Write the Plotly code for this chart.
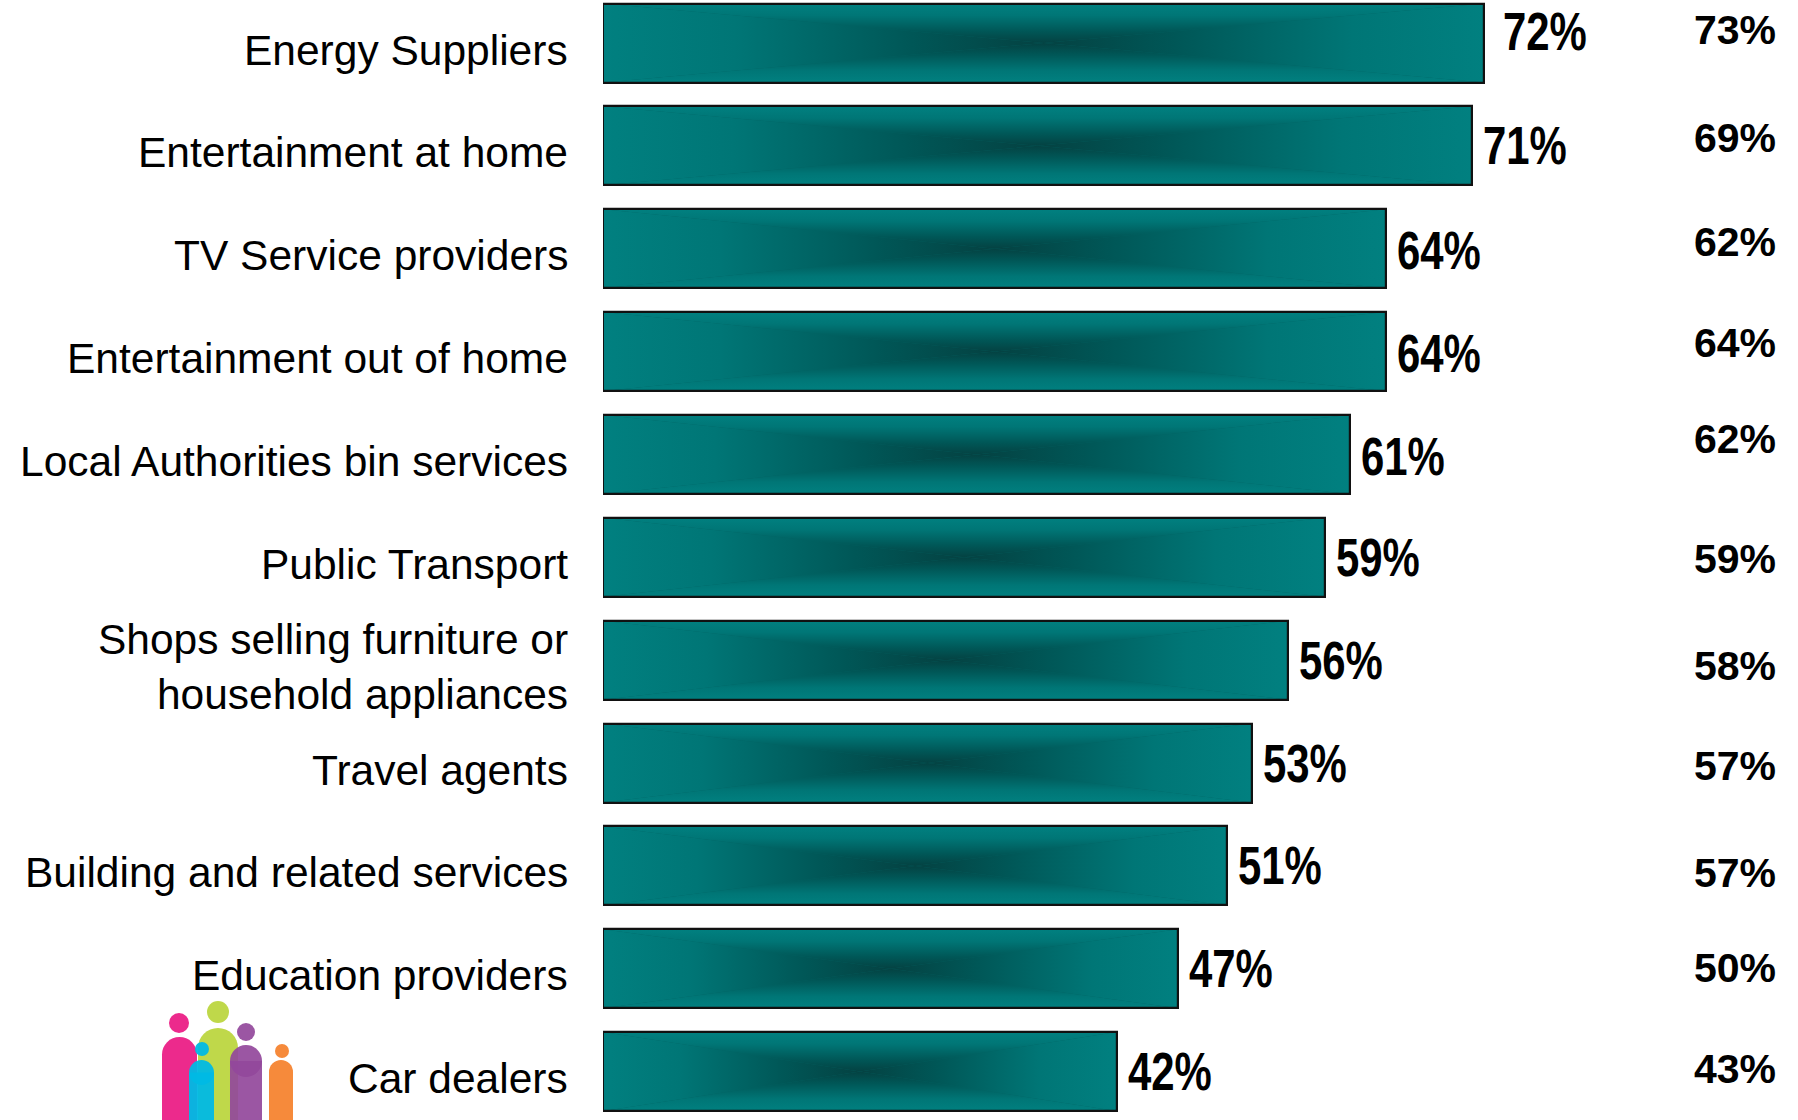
import base64
import plotly.graph_objects as go

# Satisfaction by sector: current wave (bars) and previous wave (right column)
categories = [
    "Energy Suppliers",
    "Entertainment at home",
    "TV Service providers",
    "Entertainment out of home",
    "Local Authorities bin services",
    "Public Transport",
    "Shops selling furniture or<br>household appliances",
    "Travel agents",
    "Building and related services",
    "Education providers",
    "Car dealers",
]
current = [72, 71, 64, 64, 61, 59, 56, 53, 51, 47, 42]
previous = [73, 69, 62, 64, 62, 59, 58, 57, 57, 50, 43]

# small offsets (px) for the label columns: lift is + up, push is + right
value_lift = [12, 0, -2, -2, -2, 0, 0, 0, 0, 0, 0]
value_push = [8, 0, 0, 0, 0, 0, 0, 0, 0, 0, 0]
prev_lift = [13, 8, 7, 9, 15, -2, -6, -3, -7, 1, 3]

W, H = 1798, 1120
PLOT_LEFT = 603          # pixel where the bars start
PX_PER_PCT = 12.24       # horizontal scale
ROW_PITCH = 102.86       # pixels per category row
FIRST_ROW = 43.0         # pixel centre of the first row
BAR_WIDTH = 0.768

rows = list(range(len(categories)))


def bar_fill_svg():
    """Rectangular 'path' gradient: teal at the edges, deep teal at the centre."""
    stops = [(0, "#018080"), (0.3, "#007676"), (0.7, "#005757"), (1, "#044242")]

    def grad(gid, x1, y1, x2, y2):
        s = "".join(f'<stop offset="{o}" stop-color="{c}"/>' for o, c in stops)
        return (f'<linearGradient id="{gid}" x1="{x1}" y1="{y1}" x2="{x2}" y2="{y2}">'
                f'{s}</linearGradient>')

    defs = grad("t", 0, 0, 0, 1) + grad("b", 0, 1, 0, 0) + grad("l", 0, 0, 1, 0) + grad("r", 1, 0, 0, 0)
    polys = (
        '<polygon points="0,0 100,0 50,50" fill="url(#t)"/>'
        '<polygon points="0,100 100,100 50,50" fill="url(#b)"/>'
        '<polygon points="0,0 0,100 50,50" fill="url(#l)"/>'
        '<polygon points="100,0 100,100 50,50" fill="url(#r)"/>'
    )
    svg = ('<svg xmlns="http://www.w3.org/2000/svg" width="100" height="100" '
           'viewBox="0 0 100 100" preserveAspectRatio="none">'
           f'<defs>{defs}</defs><rect width="100" height="100" fill="#006262"/>{polys}</svg>')
    return "data:image/svg+xml;base64," + base64.b64encode(svg.encode()).decode()


fill_src = bar_fill_svg()

fig = go.Figure()
fig.add_trace(go.Bar(
    x=current, y=rows, orientation="h", width=BAR_WIDTH,
    marker=dict(color="rgba(0,0,0,0)", line=dict(color="#111111", width=2.2)),
    hoverinfo="skip", showlegend=False,
))

images = []
for i, v in zip(rows, current):
    images.append(dict(
        source=fill_src, xref="x", yref="y", x=0, y=i,
        sizex=v, sizey=BAR_WIDTH, xanchor="left", yanchor="middle",
        sizing="stretch", layer="below",
    ))

annotations = []
label_font = dict(family="Liberation Sans, Arial, sans-serif", size=42.5, color="#000000")
value_font = dict(family="Liberation Sans Narrow, Arial Narrow, Liberation Sans, Arial, sans-serif",
                  size=53, color="#000000", weight="bold")
prev_font = dict(family="Liberation Sans, Arial, sans-serif", size=41, color="#000000", weight="bold")

for i, (cat, v, p) in enumerate(zip(categories, current, previous)):
    annotations.append(dict(
        text=cat, xref="paper", yref="y", x=570 / W, y=i,
        xanchor="right", yanchor="middle", align="right",
        showarrow=False, font=label_font, yshift=-7,
    ))
    annotations.append(dict(
        text=f"{v}%", xref="x", yref="y", x=v, y=i,
        xanchor="left", yanchor="middle", align="left", xshift=9 + value_push[i],
        yshift=value_lift[i], showarrow=False, font=value_font,
    ))
    annotations.append(dict(
        text=f"{p}%", xref="paper", yref="y", x=1778 / W, y=i,
        xanchor="right", yanchor="middle", yshift=prev_lift[i],
        showarrow=False, font=prev_font,
    ))


# Small "people" logo in the lower-left corner (pixel geometry -> paper coords)
def px(x):
    return x / W


def py(y):
    return 1 - y / H


shapes = []


def person(cx_head, cy_head, r_head, body_x0, body_x1, body_top, color, opacity=1.0):
    r_body = (body_x1 - body_x0) / 2
    cy_round = body_top + r_body
    common = dict(xref="paper", yref="paper", fillcolor=color, opacity=opacity,
                  line=dict(width=0), layer="above")
    shapes.append(dict(type="circle", x0=px(cx_head - r_head), x1=px(cx_head + r_head),
                       y0=py(cy_head + r_head), y1=py(cy_head - r_head), **common))
    shapes.append(dict(type="circle", x0=px(body_x0), x1=px(body_x1),
                       y0=py(cy_round + r_body), y1=py(body_top), **common))
    shapes.append(dict(type="rect", x0=px(body_x0), x1=px(body_x1),
                       y0=py(H + 2), y1=py(cy_round), **common))


person(179, 1023, 10, 162, 197, 1037, "#ec2a8c")
person(218, 1012, 11, 198, 238, 1028, "#bfd84a")
person(246, 1032, 9, 230, 262, 1045, "#93489b", 0.92)
person(202, 1049, 7, 189, 214, 1060, "#00b9e4", 0.95)
person(282, 1051, 7, 269, 293, 1060, "#f68a3b")

x_max = (W - PLOT_LEFT) / PX_PER_PCT
y_top = -FIRST_ROW / ROW_PITCH
y_bottom = (H - FIRST_ROW) / ROW_PITCH

fig.update_layout(
    width=W, height=H,
    margin=dict(l=0, r=0, t=0, b=0),
    paper_bgcolor="white", plot_bgcolor="rgba(0,0,0,0)",
    xaxis=dict(domain=[PLOT_LEFT / W, 1], range=[0, x_max], visible=False, fixedrange=True),
    yaxis=dict(domain=[0, 1], range=[y_bottom, y_top], visible=False, fixedrange=True),
    images=images, annotations=annotations, shapes=shapes,
    bargap=0,
)

# Condense the bar value labels (narrow bold face) when no narrow font is available
condense_js = """
var gd = document.getElementById('{plot_id}');
function condense() {
  gd.querySelectorAll('text.annotation-text').forEach(function (t) {
    var fam = t.style.fontFamily || '';
    if (fam.indexOf('Narrow') >= 0 && !t.getAttribute('textLength')) {
      var w = t.getComputedTextLength();
      t.setAttribute('textLength', (w * 0.79).toFixed(1));
      t.setAttribute('lengthAdjust', 'spacingAndGlyphs');
    }
  });
}
condense();
gd.on('plotly_afterplot', condense);
"""

fig.write_html("out.html", config={"displayModeBar": False}, post_script=condense_js)
